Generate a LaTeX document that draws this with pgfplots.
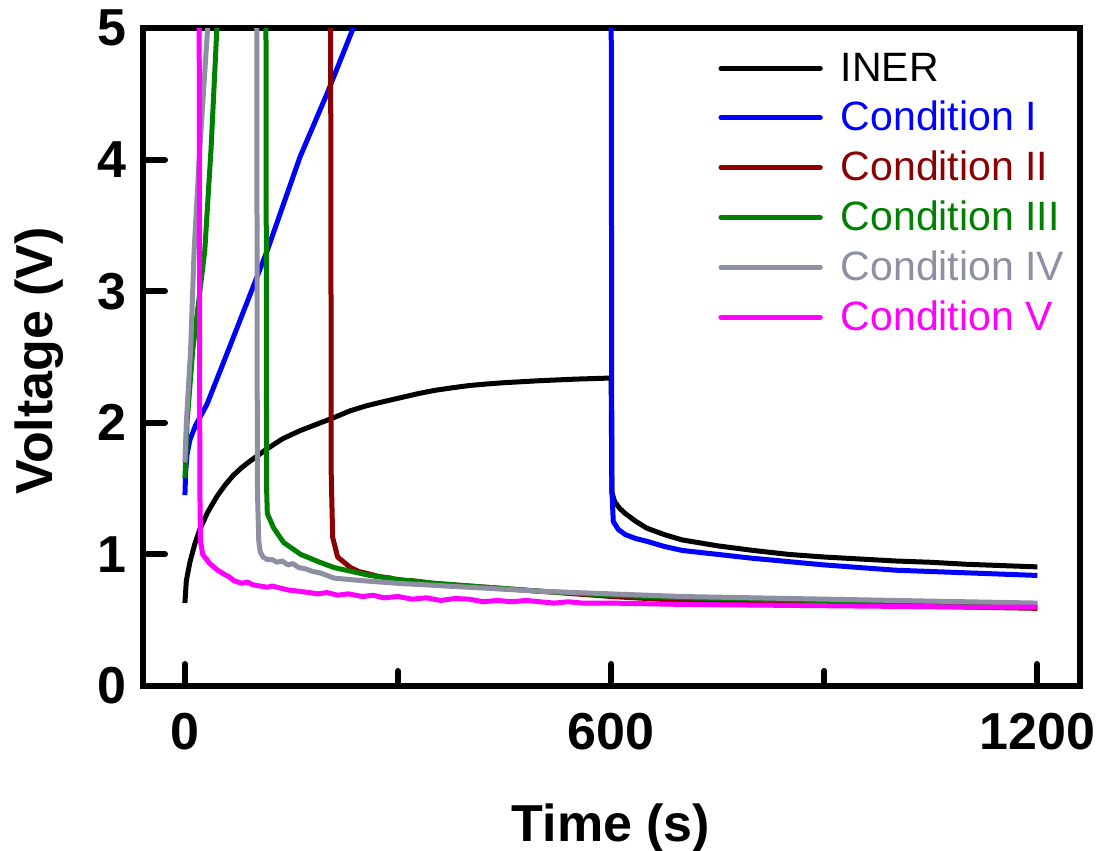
\documentclass[border=0pt]{standalone}
\usepackage{pgfplots}
\pgfplotsset{compat=1.18}
\usepackage{fontspec}
\setmainfont{Liberation Sans}
\definecolor{cI}{RGB}{0,0,255}
\definecolor{cII}{RGB}{139,0,0}
\definecolor{cIII}{RGB}{0,128,0}
\definecolor{cIV}{RGB}{143,143,163}
\definecolor{cV}{RGB}{255,0,255}
\begin{document}
\begin{tikzpicture}
\path[use as bounding box] (-71.5pt,-82.5pt) rectangle (478pt,343pt);
\begin{axis}[
  scale only axis, width=468.5pt, height=329pt,
  xmin=-59, xmax=1260, ymin=0, ymax=5,
  xtick={0,600,1200}, minor xtick={300,900},
  ytick={0,1,2,3,4,5},
  tick pos=left, tick align=inside,
  major tick length=11pt, minor tick length=7.5pt,
  every tick/.style={black, line width=3pt, line cap=round},
  axis line style={line width=3.2pt},
  /pgf/number format/assume math mode=true,
  /pgf/number format/set thousands separator={},
  ticklabel style={font=\fontsize{26}{26}\selectfont\bfseries},
  xticklabel style={yshift=-10pt},
  yticklabel style={xshift=-5pt},
  xlabel={\fontsize{26}{26}\selectfont\bfseries Time (s)},
  ylabel={\fontsize{26}{26}\selectfont\bfseries Voltage (V)},
  every axis x label/.style={at={(axis description cs:0.4995,-0.216)},anchor=center},
  every axis y label/.style={at={(axis description cs:-0.111,0.494)},rotate=90,anchor=center},
  legend cell align=left,
  legend style={at={(axis description cs:0.6137,0.969)}, anchor=north west, draw=none, fill=none, inner sep=0pt,
    font=\fontsize{20.5}{24}\selectfont, row sep=4.6pt, nodes={inner sep=2pt},
    /tikz/every odd column/.append style={column sep=7pt}},
  legend image code/.code={\draw[#1, line width=2.7pt, line cap=round] (0pt,0pt) -- (49.5pt,0pt);},
  every axis plot/.append style={line width=2.5pt, line join=round},
]
% INER
\addplot[black] coordinates {
(0,0.63) (2,0.80) (7,0.94) (14,1.08) (21,1.19) (32,1.32) (45,1.44) (57,1.53) (68,1.60) (80,1.66) (92,1.71) (115,1.80) (138,1.88) (162,1.94) (186,1.99) (210,2.04) (232,2.09) (256,2.13) (279,2.16) (303,2.19) (327,2.22) (350,2.245) (375,2.265) (400,2.283) (425,2.295) (450,2.305) (500,2.32) (550,2.332) (599,2.34)
(600,2.34) (601,1.47) (605,1.40) (612,1.35) (620,1.31) (635,1.25) (650,1.20) (675,1.15) (700,1.11) (750,1.065) (800,1.03) (850,1.00) (900,0.98) (950,0.965) (1000,0.95) (1050,0.94) (1100,0.925) (1150,0.915) (1200,0.905)};
\addlegendentry{INER}
% Condition I
\addplot[cI] coordinates {
(0,1.45) (1,1.62) (3,1.76) (7,1.87) (15,1.98) (31,2.14) (61,2.55) (90,2.95) (116,3.31) (162,4.02) (200,4.5) (237,5.0) (250,5.5) (599,5.5)
(600,5.5) (601,1.5) (603,1.25) (610,1.19) (620,1.15) (635,1.12) (650,1.10) (675,1.06) (700,1.03) (750,1.00) (800,0.97) (850,0.945) (900,0.92) (950,0.90) (1000,0.88) (1050,0.87) (1100,0.86) (1150,0.85) (1200,0.84)};
\addlegendentry{\textcolor{cI}{Condition I}}
% Condition II
\addplot[cII] coordinates {
(205,5.5) (206,1.6) (208,1.13) (215,0.98) (233,0.90) (245,0.87) (260,0.85) (275,0.83) (290,0.82) (300,0.80) (320,0.80) (350,0.78) (375,0.77) (400,0.76) (450,0.74) (500,0.72) (550,0.70) (600,0.68) (700,0.65) (800,0.63) (900,0.62) (1000,0.61) (1100,0.60) (1200,0.59)};
\addlegendentry{\textcolor{cII}{Condition II}}
% Condition III
\addplot[cIII] coordinates {
(0,1.58) (1,1.7) (3,2.0) (11,2.55) (20,2.95) (28,3.31) (37,4.1) (45,5.0) (50,5.5) (113,5.5)
(114,5.5) (115,1.5) (116,1.31) (125,1.20) (139,1.09) (163,1.00) (190,0.94) (210,0.90) (235,0.87) (260,0.84) (300,0.81) (351,0.78) (400,0.76) (450,0.74) (500,0.72) (600,0.69) (700,0.67) (800,0.66) (900,0.65) (1000,0.64) (1100,0.63) (1200,0.62)};
\addlegendentry{\textcolor{cIII}{Condition III}}
% Condition IV
\addplot[cIV] coordinates {
(0,1.7) (1,1.85) (2,2.0) (8,2.55) (13,3.31) (20,4.0) (32,5.0) (36,5.5) (100,5.5)
(101,5.5) (102,1.5) (104,1.1) (106,1.02) (110,0.98) (116,0.96) (123,0.96) (130,0.94) (137,0.95) (145,0.92) (152,0.93) (160,0.90) (170,0.89) (180,0.87) (190,0.86) (200,0.84) (210,0.82) (230,0.81) (250,0.80) (275,0.79) (300,0.78) (350,0.765) (400,0.75) (450,0.735) (500,0.72) (600,0.70) (700,0.68) (800,0.67) (900,0.66) (1000,0.65) (1100,0.64) (1200,0.63)};
\addlegendentry{\textcolor{cIV}{Condition IV}}
% Condition V
\addplot[cV] coordinates {
(20,5.5) (21,1.5) (22,1.1) (25,1.0) (35,0.93) (46,0.88) (55,0.85) (62,0.83) (69,0.80) (80,0.78) (88,0.79) (95,0.77) (105,0.76) (116,0.75) (123,0.76) (130,0.75) (145,0.73) (160,0.72) (175,0.71) (187,0.70) (200,0.71) (215,0.69) (230,0.70) (250,0.68) (265,0.69) (280,0.67) (300,0.68) (320,0.66) (340,0.67) (360,0.65) (380,0.665) (400,0.66) (420,0.64) (440,0.65) (460,0.64) (480,0.65) (500,0.64) (520,0.63) (540,0.64) (560,0.63) (600,0.63) (700,0.62) (800,0.615) (900,0.61) (1000,0.605) (1100,0.60) (1200,0.60)};
\addlegendentry{\textcolor{cV}{Condition V}}
\end{axis}
\end{tikzpicture}
\end{document}
